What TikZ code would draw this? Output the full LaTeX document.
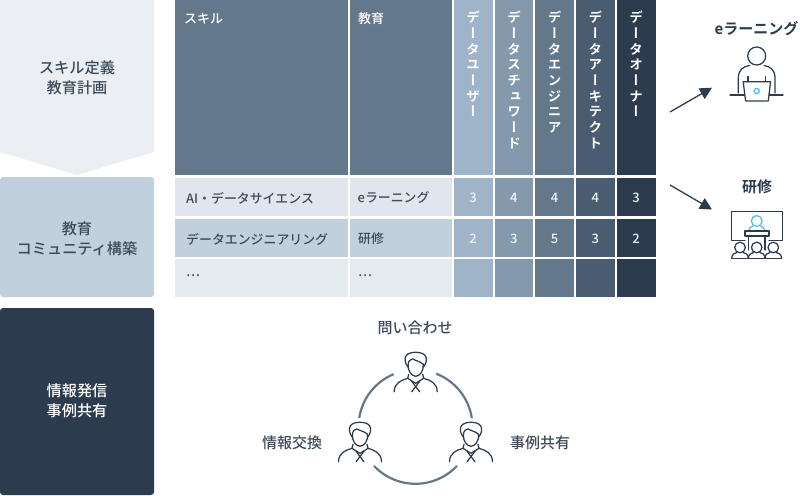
\documentclass[tikz,border=0pt]{standalone}
\usepackage{fontspec}
\setmainfont[BoldFont={Noto Sans CJK JP Bold}]{Noto Sans CJK JP Medium}
\newfontfamily\vjp[RawFeature={+vert}]{Noto Sans CJK JP Bold}
\usetikzlibrary{arrows.meta}
\definecolor{navy}{HTML}{2C3C4E}
\definecolor{inktxt}{HTML}{3D4B5B}
\definecolor{c1}{HTML}{9FB4C8}
\definecolor{c2}{HTML}{8599AD}
\definecolor{c3}{HTML}{64788C}
\definecolor{c4}{HTML}{4A5C70}
\definecolor{pale}{HTML}{EBEFF4}
\definecolor{mid}{HTML}{C2CFDC}
\definecolor{rowa}{HTML}{E1E6EE}
\definecolor{rowc}{HTML}{E4EBEF}
\definecolor{sky}{HTML}{55BBE8}
\tikzset{
  x=1pt,y=-1pt,
  lefttxt/.style={font=\fontsize{15.2}{20}\selectfont,align=center,text=inktxt,inner sep=0pt},
  celltxt/.style={font=\fontsize{12.9}{15}\selectfont,text=inktxt,anchor=west,inner sep=0pt},
  headtxt/.style={font=\fontsize{13}{15}\selectfont,text=white,anchor=west,inner sep=0pt},
  vtxt/.style={font=\vjp\fontsize{13.5}{15.7}\selectfont,text=white,align=center,anchor=north,inner sep=0pt},
  numtxt/.style={font=\fontsize{13}{15}\selectfont,text=white!90!c2,inner sep=0pt},
  captxt/.style={font=\fontsize{15}{17}\selectfont,text=inktxt,inner sep=0pt},
  boldcap/.style={font=\bfseries\fontsize{15}{17}\selectfont,text=navy,inner sep=0pt},
  ico/.style={draw=navy,line width=1.25pt,line cap=round,line join=round},
  icob/.style={draw=sky,line width=1.25pt},
  ring/.style={draw=c3,line width=2.2pt},
  pointer/.style={draw=navy,line width=1.3pt,-{Triangle[length=12pt,width=12pt]}},
  man/.pic={
    \draw[ico] (-7.5,15) .. controls (-11,11) and (-11.5,6) .. (-9.6,3.5) .. controls (-7,-1.2) and (7,-1.2) .. (9.6,3.5) .. controls (11.5,6) and (11,11) .. (7.5,15);
    \draw[ico] (-7.5,12) .. controls (-7.5,8.5) and (-5,7) .. (-3,6.5) .. controls (-1,8.5) and (4,8.5) .. (7.5,12);
    \draw[ico] (-7.5,12) .. controls (-8.5,18) and (-4,24) .. (0,24) .. controls (4,24) and (8.5,18) .. (7.5,12);
    \draw[ico] (-21.5,39.5) .. controls (-21.5,31) and (-15,28) .. (-8,26) -- (-7,22);
    \draw[ico] (21.5,39.5) .. controls (21.5,31) and (15,28) .. (8,26) -- (7,22);
    \draw[ico] (-8,26) -- (0,31) -- (8,26);
    \draw[ico] (-4,29) -- (4,39.5);
    \draw[ico] (4,29) -- (-4,39.5);
  },
  seat/.pic={
    \draw[ico] (0,0) circle[radius=5.3];
    \draw[ico] (-8.3,11) .. controls (-8.3,7) and (-5.5,5) .. (-3,5);
    \draw[ico] (8.3,11) .. controls (8.3,7) and (5.5,5) .. (3,5);
  }
}
\begin{document}
\begin{tikzpicture}
\useasboundingbox (0,0) rectangle (800,495);
% left column
\fill[pale] (0,0) -- (154,0) -- (154,152) -- (77,175) -- (0,152) -- cycle;
\fill[mid,rounded corners=3pt] (0,177) rectangle (154,297);
\fill[navy,rounded corners=3pt] (0,308) rectangle (154,495);
\node[lefttxt] (l1) at (77,78) {スキル定義\\教育計画};
\node[lefttxt] (l2) at (77,239) {教育\\コミュニティ構築};
\node[lefttxt,text=white] (l3) at (77,401) {情報発信\\事例共有};
% headers
\fill[c3] (175,0) rectangle (347.5,175);
\fill[c3] (350,0) rectangle (451.5,175);
\fill[c1] (453.5,0) rectangle (492.7,175);
\fill[c2] (494.7,0) rectangle (533.3,175);
\fill[c3] (535.3,0) rectangle (574,175);
\fill[c4] (576,0) rectangle (614.7,175);
\fill[navy] (616.7,0) rectangle (655.5,175);
\node[headtxt] (hs) at (184,18.5) {スキル};
\node[headtxt] (he) at (358,18.5) {教育};
\node[vtxt] (v1) at (473,11) {デ\\ー\\タ\\ユ\\ー\\ザ\\ー};
\node[vtxt] (v2) at (514,11) {デ\\ー\\タ\\ス\\チ\\ュ\\ワ\\ー\\ド};
\node[vtxt] (v3) at (554.7,11) {デ\\ー\\タ\\エ\\ン\\ジ\\ニ\\ア};
\node[vtxt] (v4) at (595.3,11) {デ\\ー\\タ\\ア\\ー\\キ\\テ\\ク\\ト};
\node[vtxt] (v5) at (636,11) {デ\\ー\\タ\\オ\\ー\\ナ\\ー};
% rows
\foreach \ya/\yb/\colr in {177.5/216/rowa,218.5/256.5/mid,259/297/rowc}{
  \fill[\colr] (175,\ya) rectangle (347.5,\yb);
  \fill[\colr] (350,\ya) rectangle (451.5,\yb);
}
\foreach \ya/\yb in {177.5/216,218.5/256.5,259/297}{
  \fill[c1] (453.5,\ya) rectangle (492.7,\yb);
  \fill[c2] (494.7,\ya) rectangle (533.3,\yb);
  \fill[c3] (535.3,\ya) rectangle (574,\yb);
  \fill[c4] (576,\ya) rectangle (614.7,\yb);
  \fill[navy] (616.7,\ya) rectangle (655.5,\yb);
}
\node[celltxt] (a1) at (186,198) {AI・データサイエンス};
\node[celltxt] (a2) at (186,239) {データエンジニアリング};
\node[celltxt] (a3) at (186,276) {…};
\node[celltxt] (b1) at (357.5,198) {eラーニング};
\node[celltxt] (b2) at (358,239) {研修};
\node[celltxt] (b3) at (358,276) {…};
\node[numtxt] (n11) at (473,198) {3};
\node[numtxt] (n12) at (513.7,198) {4};
\node[numtxt] (n13) at (554.5,198) {4};
\node[numtxt] (n14) at (595.3,198) {4};
\node[numtxt] (n15) at (636,198) {3};
\node[numtxt] (n21) at (473,239) {2};
\node[numtxt] (n22) at (513.7,239) {3};
\node[numtxt] (n23) at (554.5,239) {5};
\node[numtxt] (n24) at (595.3,239) {3};
\node[numtxt] (n25) at (636,239) {2};
% arrows
\coordinate (p1a) at (670,112);
\coordinate (p1b) at (712,87.7);
\coordinate (p2a) at (670,185);
\coordinate (p2b) at (712,209.5);
\draw[pointer] (p1a) -- (p1b);
\draw[pointer] (p2a) -- (p2b);
% right captions
\node[boldcap] (t1) at (756.5,29) {eラーニング};
\node[boldcap] (t2) at (757,187) {研修};
% laptop icon
\draw[ico] (756.7,56) circle[radius=9];
\draw[ico] (738.3,93) -- (738.3,78) .. controls (738.3,70) and (743,66.5) .. (749.5,65.5);
\draw[ico] (775,93) -- (775,78) .. controls (775,70) and (770.5,66.5) .. (764,65.5);
\draw[ico] (748,76.5) -- (748,81.7);
\draw[ico] (765.7,76.5) -- (765.7,81.7);
\draw[ico] (730,95) -- (744.5,95);
\draw[ico] (769,95) -- (783,95);
\draw[ico] (743.2,81.7) -- (770.5,81.7) -- (768.3,101) -- (745.6,101) -- cycle;
\draw[icob] (756.7,91) circle[radius=2.6];
% lecture icon
\draw[ico] (745,240.7) -- (731.7,240.7) -- (731.7,211.7) -- (782.3,211.7) -- (782.3,240.7) -- (769,240.7);
\draw[icob] (756.7,221) circle[radius=5.4];
\draw[icob] (748.5,231) .. controls (749,228) and (751,226.5) .. (753,226);
\draw[icob] (765,231) .. controls (764.5,228) and (762.5,226.5) .. (760.5,226);
\draw[ico] (745,231) rectangle (769,236);
\draw[ico] (748.3,236) -- (748.3,250);
\draw[ico] (765,236) -- (765,250);
\pic at (740,247.5) {seat};
\pic at (756.7,247.5) {seat};
\pic at (773.3,247.5) {seat};
\draw[ico] (731.7,258.5) -- (781.6,258.5);
% exchange circle
\coordinate (cc) at (415.5,426.8);
\draw[ring] ([shift={(cc)}]247.5:57) arc[start angle=247.5,end angle=189,radius=57];
\draw[ring] ([shift={(cc)}]291.2:57) arc[start angle=291.2,end angle=351.3,radius=57];
\draw[ring] ([shift={(cc)}]136.7:57) arc[start angle=136.7,end angle=43.3,radius=57];
\pic at (415.7,352.3) {man};
\pic at (360,422.3) {man};
\pic at (471,422.3) {man};
\node[captxt] (q1) at (415,328) {問い合わせ};
\node[captxt] (q2) at (292,443) {情報交換};
\node[captxt] (q3) at (540,443) {事例共有};
\end{tikzpicture}
\end{document}
